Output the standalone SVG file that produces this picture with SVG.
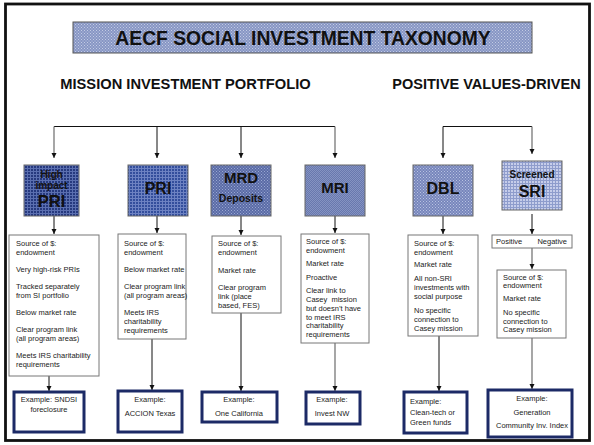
<svg xmlns="http://www.w3.org/2000/svg" width="594" height="445" viewBox="0 0 594 445">
<defs>
<style>
text{font-family:"Liberation Sans",Arial,sans-serif;}
.h{font-weight:bold;fill:#111;text-anchor:middle;}
.d{font-size:7.5px;fill:#222;}
.ex{font-size:7.5px;fill:#222;text-anchor:middle;}
.box{fill:#fff;stroke:#777;stroke-width:1;}
.exb{fill:#fff;stroke:#1c2a66;stroke-width:3;}
.nb{stroke:#666;stroke-width:1;}
.c{fill:none;stroke:#111;stroke-width:1;}
.g{fill:none;stroke:#777;stroke-width:1.3;}
</style>
<marker id="ah" markerWidth="6" markerHeight="6" refX="5" refY="3" orient="auto" markerUnits="userSpaceOnUse">
<path d="M0,0.5 L5,3 L0,5.5 Z" fill="#111"/>
</marker>
<pattern id="pt" width="3" height="3" patternUnits="userSpaceOnUse">
<rect width="3" height="3" fill="#8796c4"/><rect width="1" height="1" fill="#c3cbe4"/><rect x="1.5" y="1.5" width="1" height="1" fill="#c3cbe4"/>
</pattern>
<pattern id="p1" width="3" height="3" patternUnits="userSpaceOnUse">
<rect width="3" height="3" fill="#26397e"/><rect width="3" height="1" fill="#5b6fb0"/><rect width="1" height="3" fill="#5b6fb0"/>
</pattern>
<pattern id="p2" width="3" height="3" patternUnits="userSpaceOnUse">
<rect width="3" height="3" fill="#334e9c"/><rect width="3" height="1" fill="#6d82c2"/><rect width="1" height="3" fill="#6d82c2"/>
</pattern>
<pattern id="p3" width="3" height="3" patternUnits="userSpaceOnUse">
<rect width="3" height="3" fill="#5a6ba6"/><rect width="1" height="1" fill="#9aa8d2"/><rect x="1.5" y="1.5" width="1" height="1" fill="#9aa8d2"/>
</pattern>
<pattern id="p4" width="2" height="2" patternUnits="userSpaceOnUse">
<rect width="2" height="2" fill="#6878ae"/><rect width="1" height="1" fill="#8593c2"/><rect x="1" y="1" width="1" height="1" fill="#8593c2"/>
</pattern>
<pattern id="p5" width="3" height="3" patternUnits="userSpaceOnUse">
<rect width="3" height="3" fill="#7786bc"/><rect width="1" height="1" fill="#b9c3e2"/><rect x="1.5" y="1.5" width="1" height="1" fill="#b9c3e2"/>
</pattern>
<pattern id="p6" width="3" height="3" patternUnits="userSpaceOnUse">
<rect width="3" height="3" fill="#c6cdea"/><rect width="3" height="1" fill="#8e9ccc"/><rect width="1" height="3" fill="#8e9ccc"/>
</pattern>
</defs>
<rect x="0" y="0" width="594" height="445" fill="#fff"/>
<rect x="5.5" y="4" width="584" height="436.5" fill="none" stroke="#111" stroke-width="2.8"/>

<g id="title">
<rect x="73" y="22" width="459" height="31" fill="url(#pt)" stroke="#555" stroke-width="1"/>
<text x="303" y="45" class="h" font-size="19.3">AECF SOCIAL INVESTMENT TAXONOMY</text>
</g>
<g id="headings">
<text x="185.5" y="89" class="h" font-size="14.7">MISSION INVESTMENT PORTFOLIO</text>
<text x="486.5" y="89" class="h" font-size="14.5">POSITIVE VALUES-DRIVEN</text>
</g>

<g id="connectors">
<path class="c" d="M54,126.5 H335"/>
<path class="g" d="M54,126.5 V158" marker-end="url(#ah)"/>
<path class="c" d="M157,126.5 V158" marker-end="url(#ah)"/>
<path class="c" d="M241,126.5 V158" marker-end="url(#ah)"/>
<path class="g" d="M335,126.5 V158" marker-end="url(#ah)"/>
<path class="c" d="M443,126.5 H532"/>
<path class="c" d="M443,126.5 V158" marker-end="url(#ah)"/>
<path class="g" d="M532,126.5 V154" marker-end="url(#ah)"/>
<path class="c" d="M54,216 V234" marker-end="url(#ah)"/>
<path class="c" d="M157,216 V233" marker-end="url(#ah)"/>
<path class="c" d="M241,216 V235" marker-end="url(#ah)"/>
<path class="c" d="M335,216 V233" marker-end="url(#ah)"/>
<path class="c" d="M443,216 V234" marker-end="url(#ah)"/>
<path class="c" d="M532,214 V234" marker-end="url(#ah)"/>
<path class="g" d="M532,248 V269" marker-end="url(#ah)"/>
<path class="c" d="M49,376 V391" marker-end="url(#ah)"/>
<path class="c" d="M152,339 V390" marker-end="url(#ah)"/>
<path class="c" d="M241,313 V391" marker-end="url(#ah)"/>
<path class="g" d="M335,343 V391" marker-end="url(#ah)"/>
<path class="c" d="M439,336 V391" marker-end="url(#ah)"/>
<path class="g" d="M532,338 V389" marker-end="url(#ah)"/>
</g>

<g id="node-high-impact-pri">
<rect class="nb" x="24" y="165" width="55" height="51" fill="url(#p1)"/>
<text x="51.5" y="178" class="h" font-size="10" fill="#222">High</text>
<text x="51.5" y="189" class="h" font-size="10" fill="#222">impact</text>
<text x="51.5" y="207" class="h" font-size="16.5">PRI</text>
</g>
<g id="node-pri">
<rect class="nb" x="128" y="165" width="60" height="51" fill="url(#p2)"/>
<text x="158" y="194" class="h" font-size="16">PRI</text>
</g>
<g id="node-mrd">
<rect class="nb" x="211" y="165" width="60" height="51" fill="url(#p3)"/>
<text x="241" y="183" class="h" font-size="15">MRD</text>
<text x="241" y="202" class="h" font-size="10.5">Deposits</text>
</g>
<g id="node-mri">
<rect class="nb" x="305" y="165" width="60" height="51" fill="url(#p4)"/>
<text x="335" y="193" class="h" font-size="15">MRI</text>
</g>
<g id="node-dbl">
<rect class="nb" x="413" y="165" width="60" height="51" fill="url(#p5)"/>
<text x="443" y="194" class="h" font-size="16">DBL</text>
</g>
<g id="node-sri">
<rect class="nb" x="502" y="161" width="60" height="49" fill="url(#p6)"/>
<text x="532" y="178" class="h" font-size="10">Screened</text>
<text x="532" y="197" class="h" font-size="16">SRI</text>
</g>

<g id="desc-high-impact-pri">
<rect class="box" x="9" y="235" width="90" height="141"/>
<text class="d" x="16" y="246">Source of $:</text>
<text class="d" x="16" y="255">endowment</text>
<text class="d" x="16" y="272">Very high-risk PRIs</text>
<text class="d" x="16" y="289">Tracked separately</text>
<text class="d" x="16" y="298">from SI portfolio</text>
<text class="d" x="16" y="315">Below market rate</text>
<text class="d" x="16" y="332">Clear program link</text>
<text class="d" x="16" y="341">(all program areas)</text>
<text class="d" x="16" y="358">Meets IRS charitability</text>
<text class="d" x="16" y="367">requirements</text>
</g>
<g id="desc-pri">
<rect class="box" x="118" y="234" width="68" height="105"/>
<text class="d" x="124" y="246">Source of $:</text>
<text class="d" x="124" y="255">endowment</text>
<text class="d" x="124" y="272">Below market rate</text>
<text class="d" x="124" y="289">Clear program link</text>
<text class="d" x="124" y="298">(all program areas)</text>
<text class="d" x="124" y="315">Meets IRS</text>
<text class="d" x="124" y="324">charitability</text>
<text class="d" x="124" y="333">requirements</text>
</g>
<g id="desc-mrd">
<rect class="box" x="212" y="236" width="69" height="77"/>
<text class="d" x="218" y="246">Source of $:</text>
<text class="d" x="218" y="255">endowment</text>
<text class="d" x="218" y="273">Market rate</text>
<text class="d" x="218" y="290">Clear program</text>
<text class="d" x="218" y="299">link (place</text>
<text class="d" x="218" y="308">based, FES)</text>
</g>
<g id="desc-mri">
<rect class="box" x="301" y="234" width="68" height="109"/>
<text class="d" x="306" y="244">Source of $:</text>
<text class="d" x="306" y="253">endowment</text>
<text class="d" x="306" y="266">Market rate</text>
<text class="d" x="306" y="280">Proactive</text>
<text class="d" x="306" y="293">Clear link to</text>
<text class="d" x="306" y="302" xml:space="preserve">Casey  mission</text>
<text class="d" x="306" y="311">but doesn’t have</text>
<text class="d" x="306" y="320">to meet IRS</text>
<text class="d" x="306" y="328">charitability</text>
<text class="d" x="306" y="337">requirements</text>
</g>
<g id="desc-dbl">
<rect class="box" x="408" y="235" width="70" height="101"/>
<text class="d" x="414" y="246">Source of $:</text>
<text class="d" x="414" y="255">endowment</text>
<text class="d" x="414" y="267">Market rate</text>
<text class="d" x="414" y="281">All non-SRI</text>
<text class="d" x="414" y="290">investments with</text>
<text class="d" x="414" y="299">social purpose</text>
<text class="d" x="414" y="313">No specific</text>
<text class="d" x="414" y="322">connection to</text>
<text class="d" x="414" y="331">Casey mission</text>
</g>
<g id="posneg-sri">
<rect class="box" x="492" y="235" width="80" height="13"/>
<text class="d" x="496" y="244">Positive</text>
<text class="d" x="567" y="244" text-anchor="end">Negative</text>
</g>
<g id="desc-sri">
<rect class="box" x="497" y="270" width="69" height="68"/>
<text class="d" x="503" y="280">Source of $:</text>
<text class="d" x="503" y="288">endowment</text>
<text class="d" x="503" y="301">Market rate</text>
<text class="d" x="503" y="315">No specific</text>
<text class="d" x="503" y="324">connection to</text>
<text class="d" x="503" y="332">Casey mission</text>
</g>

<g id="ex-high-impact-pri">
<rect class="exb" x="14" y="392" width="70" height="40"/>
<text class="ex" x="49" y="402">Example: SNDSI</text>
<text class="ex" x="49" y="412">foreclosure</text>
</g>
<g id="ex-pri">
<rect class="exb" x="118" y="391" width="64" height="41"/>
<text class="ex" x="150" y="402">Example:</text>
<text class="ex" x="150" y="416">ACCION Texas</text>
</g>
<g id="ex-mrd">
<rect class="exb" x="202" y="392" width="75" height="30"/>
<text class="ex" x="239" y="402">Example:</text>
<text class="ex" x="239" y="416">One California</text>
</g>
<g id="ex-mri">
<rect class="exb" x="306" y="392" width="54" height="32"/>
<text class="ex" x="332" y="402">Example:</text>
<text class="ex" x="332" y="416">Invest NW</text>
</g>
<g id="ex-dbl">
<rect class="exb" x="404" y="392" width="63" height="41"/>
<text class="d" x="410" y="404">Example:</text>
<text class="d" x="410" y="415">Clean-tech or</text>
<text class="d" x="410" y="425">Green funds</text>
</g>
<g id="ex-sri">
<rect class="exb" x="488" y="390" width="84" height="47"/>
<text class="ex" x="532" y="401">Example:</text>
<text class="ex" x="532" y="415">Generation</text>
<text class="ex" x="532" y="428">Community Inv. Index</text>
</g>
</svg>
